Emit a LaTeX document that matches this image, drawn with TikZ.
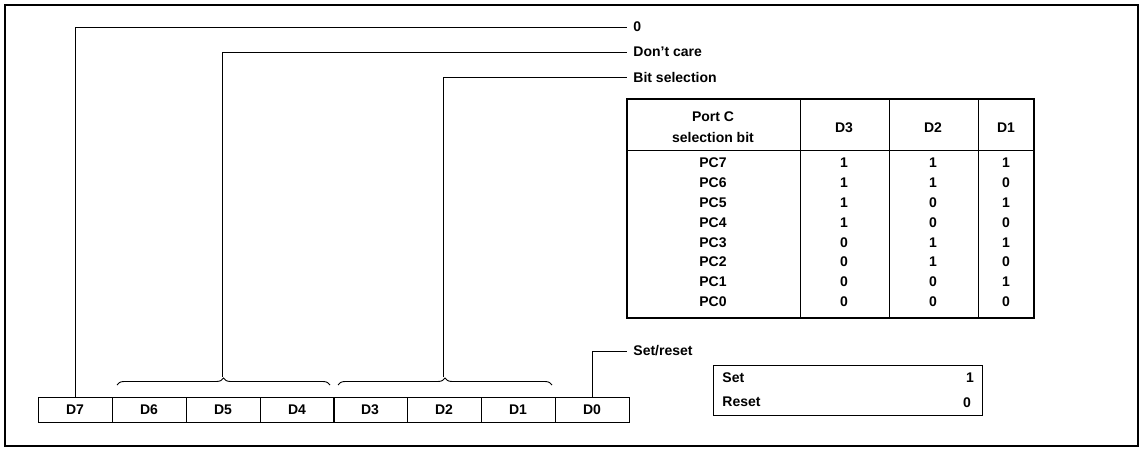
\documentclass[tikz,border=0pt]{standalone}
\usepackage{fontspec}
\setmainfont{Liberation Sans}
\usetikzlibrary{decorations.pathreplacing}

\tikzset{
  regbox/.style={draw,line width=.9pt,minimum width=74pt,minimum height=25pt,inner sep=0pt},
  lbl/.style={anchor=west,inner xsep=6pt,inner ysep=0pt},
  cell/.style={inner sep=0pt},
  bitbrace/.style={decorate,decoration={brace,amplitude=7pt},line width=.9pt},
}

\begin{document}
\begin{tikzpicture}[x=1pt,y=-1pt,line width=.9pt,font=\fontsize{14}{16}\selectfont\bfseries]
    \useasboundingbox (0,0) rectangle (1145,449);
    \draw[line width=2.4pt] (5,5) rectangle (1138,446);
    % register ================================================
    \node[regbox] (d7) at (75,409.5)  {D7};
    \node[regbox] (d6) at (149,409.5) {D6};
    \node[regbox] (d5) at (223,409.5) {D5};
    \node[regbox] (d4) at (297,409.5) {D4};
    \node[regbox] (d3) at (370,409.5) {D3};
    \node[regbox] (d2) at (444,409.5) {D2};
    \node[regbox] (d1) at (518,409.5) {D1};
    \node[regbox] (d0) at (592,409.5) {D0};
    % braces ==================================================
    \draw[bitbrace] (117,385) -- (330,385); \coordinate (dcare) at (222,377);
    \draw[bitbrace] (338,385) -- (552,385); \coordinate (bsel)  at (443,377);
    % labels ==================================================
    \node[lbl] (zero)  at (627,27)  {0};
    \node[lbl] (dont)  at (627,52)  {Don't care};
    \node[lbl] (bit)   at (627,77)  {Bit selection};
    \node[lbl] (setr)  at (627,351) {Set/reset};
    \draw (d7.north) |- (zero.west);
    \draw (dcare) |- (dont.west);
    \draw (bsel) |- (bit.west);
    \draw (d0.north) |- (setr.west);
    % port C table ============================================
    \draw[line width=1.8pt] (627,99) rectangle (1034,318);
    \draw (627,150) -- (1034,150);
    \draw (800,99) -- (800,318); \draw (889,99) -- (889,318); \draw (978,99) -- (978,318);
    \node[cell] (port) at (713,117) {Port C};
    \node[cell] (selb) at (713,137) {selection bit};
    \node[cell] (hd3)  at (844,128) {D3};
    \node[cell] (hd2)  at (933,128) {D2};
    \node[cell] (hd1)  at (1006,128) {D1};
    \foreach \r/\a/\b/\c [count=\k from 0] in {7/1/1/1,6/1/1/0,5/1/0/1,4/1/0/0,3/0/1/1,2/0/1/0,1/0/0/1,0/0/0/0}{
      \node[cell] (pc\r)  at (713,163+19.8*\k)  {PC\r};
      \node[cell] (va\r)  at (844,163+19.8*\k)  {\a};
      \node[cell] (vb\r)  at (933,163+19.8*\k)  {\b};
      \node[cell] (vc\r)  at (1006,163+19.8*\k) {\c};
    }
    % set/reset table =========================================
    \draw (713,365) rectangle (982,415);
    \node[cell,anchor=west] (set)  at (722,378) {Set};
    \node[cell,anchor=west] (rst)  at (722,402) {Reset};
    \node[cell] (one)  at (970,378) {1};
    \node[cell] (nil)  at (967,403) {0};
\end{tikzpicture}
\end{document}
